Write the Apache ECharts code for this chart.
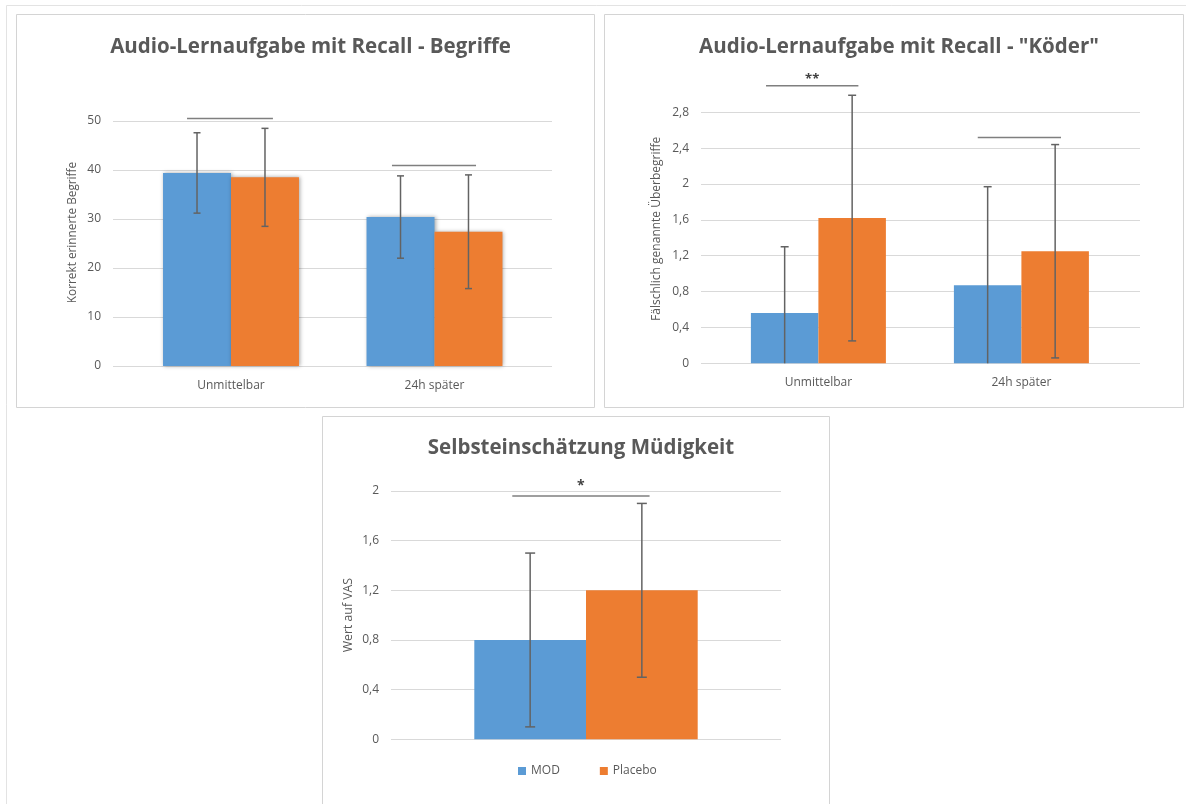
<!DOCTYPE html>
<html>
<head>
<meta charset="utf-8">
<script src="https://cdn.jsdelivr.net/npm/echarts@6/dist/echarts.min.js"></script>
<style>
  html, body { margin: 0; padding: 0; background: #ffffff; }
  #chart { width: 1186px; height: 804px; }
</style>
</head>
<body>
<div id="chart"></div>
<script>
// Categories and series values
const categories = ['Unmittelbar', '24h später'];

// Audio-Lernaufgabe mit Recall - Begriffe
const begriffeMOD = [39.4, 30.4];
const begriffePlacebo = [38.5, 27.4];
const begriffeMODErr = [8.2, 8.4];
const begriffePlaceboErr = [10.0, 11.6];
const begriffeTicks = { min: 0, max: 50, interval: 10 };
// [category, height, from (band units), to (band units), label]
const begriffeBrackets = [[0, 50.5, -0.216, 0.206, ''], [1, 40.9, -0.209, 0.204, '']];

// Audio-Lernaufgabe mit Recall - "Köder"
const koederMOD = [0.56, 0.87];
const koederPlacebo = [1.62, 1.25];
const koederMODErr = [0.74, 1.10];
const koederPlaceboErr = [1.37, 1.19];
const koederTicks = { min: 0, max: 2.8, interval: 0.4 };
const koederBrackets = [[0, 3.095, -0.258, 0.197, '**'], [1, 2.518, -0.215, 0.195, '']];

// Selbsteinschätzung Müdigkeit
const muedigkeitCategories = [''];
const muedigkeitMOD = [0.8];
const muedigkeitPlacebo = [1.2];
const muedigkeitMODErr = [0.7];
const muedigkeitPlaceboErr = [0.7];
const muedigkeitTicks = { min: 0, max: 2, interval: 0.4 };
const muedigkeitBrackets = [[0, 1.96, -0.189, 0.163, '*']];

const seriesNames = ['MOD', 'Placebo'];

const BLUE = '#5B9BD5';
const ORANGE = '#ED7D31';
const TEXT = '#595959';
const GRID = '#d9d9d9';
const ERR = '#636363';
const FONT = '"Open Sans", "Liberation Sans", sans-serif';

const fmt = v => String(+v.toFixed(1)).replace('.', ',');

const chart = echarts.init(document.getElementById('chart'), null, { renderer: 'canvas' });

// Error bar drawn at the centre of one of the two adjoining bars
function errorSeries(xi, yi, values, errors, side, barFrac, capHalf, yMin) {
  return {
    type: 'custom',
    xAxisIndex: xi, yAxisIndex: yi,
    silent: true, clip: false, z: 5,
    data: values.map((v, i) => [i, v, errors[i]]),
    renderItem: function (params, api) {
      const idx = api.value(0), v = api.value(1), e = api.value(2);
      const band = api.size([1, 0])[0];
      const c = api.coord([idx, v]);
      const x = c[0] + side * band * barFrac / 2;
      const yTop = api.coord([idx, v + e])[1];
      const low = Math.max(yMin, v - e);
      const yBot = api.coord([idx, low])[1];
      const st = { stroke: ERR, lineWidth: 1.5 };
      const kids = [
        { type: 'line', shape: { x1: x, y1: yTop, x2: x, y2: yBot }, style: st },
        { type: 'line', shape: { x1: x - capHalf, y1: yTop, x2: x + capHalf, y2: yTop }, style: st }
      ];
      if (v - e >= yMin) {
        kids.push({ type: 'line', shape: { x1: x - capHalf, y1: yBot, x2: x + capHalf, y2: yBot }, style: st });
      }
      return { type: 'group', children: kids };
    }
  };
}

// Comparison bracket with optional significance stars
function bracketSeries(xi, yi, brackets, starSize, starLift) {
  return {
    type: 'custom',
    xAxisIndex: xi, yAxisIndex: yi,
    silent: true, clip: false, z: 6,
    data: brackets,
    renderItem: function (params, api) {
      const idx = api.value(0), h = api.value(1);
      const from = api.value(2), to = api.value(3);
      const label = brackets[params.dataIndex][4];
      const band = api.size([1, 0])[0];
      const c = api.coord([idx, h]);
      const x1 = c[0] + from * band, x2 = c[0] + to * band;
      const kids = [{ type: 'line', shape: { x1: x1, y1: c[1], x2: x2, y2: c[1] },
                      style: { stroke: '#7f7f7f', lineWidth: 1.5 } }];
      if (label) {
        kids.push({ type: 'text', style: { text: label, x: (x1 + x2) / 2, y: c[1] - starLift,
          textAlign: 'center', textVerticalAlign: 'bottom', fill: '#404040',
          font: 'bold ' + starSize + 'px ' + FONT } });
      }
      return { type: 'group', children: kids };
    }
  };
}

function barSeries(name, xi, yi, data, color, width, shadow) {
  return {
    name: name, type: 'bar', xAxisIndex: xi, yAxisIndex: yi,
    data: data, barWidth: width, barGap: '0%',
    itemStyle: shadow ? { color: color, shadowBlur: 4, shadowColor: 'rgba(0,0,0,0.35)', shadowOffsetX: 1 }
                      : { color: color },
    emphasis: { disabled: true }, z: 3
  };
}

function valueAxis(gi, ticks, opts) {
  return Object.assign({
    type: 'value', gridIndex: gi, min: ticks.min, max: ticks.max, interval: ticks.interval,
    axisLine: { show: false }, axisTick: { show: false },
    splitLine: { show: true, lineStyle: { color: GRID, width: 1 } },
    axisLabel: { color: TEXT, fontSize: 12, fontFamily: FONT, margin: 12, formatter: fmt }
  }, opts || {});
}

function hiddenValueAxis(gi, ticks) {
  return { type: 'value', gridIndex: gi, min: ticks.min, max: ticks.max, interval: ticks.interval, show: false };
}

function yName(text, size, gap, shift) {
  return {
    name: text, nameLocation: 'middle', nameGap: gap,
    nameTextStyle: { color: TEXT, fontSize: size, fontFamily: FONT, padding: [0, 0, 0, shift] }
  };
}

const titleStyle = { color: TEXT, fontSize: 20.5, fontWeight: 'bold', fontFamily: FONT };

const option = {
  animation: false,
  backgroundColor: '#ffffff',
  textStyle: { fontFamily: FONT },
  title: [
    { text: 'Audio-Lernaufgabe mit Recall - Begriffe', left: 305.5, top: 32, textAlign: 'center', textStyle: titleStyle },
    { text: 'Audio-Lernaufgabe mit Recall - "Köder"', left: 894, top: 32, textAlign: 'center', textStyle: titleStyle },
    { text: 'Selbsteinschätzung Müdigkeit', left: 576, top: 433, textAlign: 'center', textStyle: titleStyle }
  ],
  legend: {
    data: seriesNames, left: 513, top: 760, itemWidth: 8, itemHeight: 8, itemGap: 40,
    icon: 'rect', textStyle: { color: TEXT, fontSize: 12, fontFamily: FONT }, selectedMode: false
  },
  graphic: [
    { type: 'line', shape: { x1: 6.5, y1: 5.5, x2: 6.5, y2: 804 }, style: { stroke: '#e3e3e3', lineWidth: 1 }, z: -10 },
    { type: 'line', shape: { x1: 6.5, y1: 5.5, x2: 1186, y2: 5.5 }, style: { stroke: '#e3e3e3', lineWidth: 1 }, z: -10 },
    { type: 'rect', shape: { x: 16.5, y: 14.5, width: 578, height: 393 }, style: { fill: '#fff', stroke: '#d4d4d4', lineWidth: 1 }, z: -9 },
    { type: 'rect', shape: { x: 604.5, y: 14.5, width: 579, height: 393 }, style: { fill: '#fff', stroke: '#d4d4d4', lineWidth: 1 }, z: -9 },
    { type: 'rect', shape: { x: 322.5, y: 416.5, width: 507, height: 400 }, style: { fill: '#fff', stroke: '#d4d4d4', lineWidth: 1 }, z: -9 }
  ],
  grid: [
    // Begriffe: gridline frame and bar area
    { left: 113, top: 121, width: 439, height: 245 },
    { left: 129.25, top: 121, width: 407, height: 245 },
    // Köder
    { left: 701, top: 112.3, width: 439, height: 251 },
    { left: 716.9, top: 112.3, width: 406, height: 251 },
    // Müdigkeit
    { left: 391, top: 491, width: 390, height: 248.3 }
  ],
  xAxis: [
    { type: 'value', gridIndex: 0, show: false, min: 0, max: 1 },
    { type: 'category', gridIndex: 1, data: categories, axisLine: { show: false }, axisTick: { show: false },
      axisLabel: { color: TEXT, fontSize: 12, fontFamily: FONT, margin: 14 } },
    { type: 'value', gridIndex: 2, show: false, min: 0, max: 1 },
    { type: 'category', gridIndex: 3, data: categories, axisLine: { show: false }, axisTick: { show: false },
      axisLabel: { color: TEXT, fontSize: 12, fontFamily: FONT, margin: 13 } },
    { type: 'category', gridIndex: 4, data: muedigkeitCategories, axisLine: { show: false }, axisTick: { show: false },
      axisLabel: { show: false } }
  ],
  yAxis: [
    valueAxis(0, begriffeTicks, yName('Korrekt erinnerte Begriffe', 11.8, 34, 22)),
    hiddenValueAxis(1, begriffeTicks),
    valueAxis(2, koederTicks, yName('Fälschlich genannte Überbegriffe', 12, 38, 18)),
    hiddenValueAxis(3, koederTicks),
    valueAxis(4, muedigkeitTicks, yName('Wert auf VAS', 12.3, 37, 0))
  ],
  series: [
    barSeries(seriesNames[0], 1, 1, begriffeMOD, BLUE, '33.4%', true),
    barSeries(seriesNames[1], 1, 1, begriffePlacebo, ORANGE, '33.4%', true),
    errorSeries(1, 1, begriffeMOD, begriffeMODErr, -1, 0.334, 3.5, begriffeTicks.min),
    errorSeries(1, 1, begriffePlacebo, begriffePlaceboErr, 1, 0.334, 3.5, begriffeTicks.min),
    bracketSeries(1, 1, begriffeBrackets, 13, 0),

    barSeries(seriesNames[0], 3, 3, koederMOD, BLUE, '33.25%', false),
    barSeries(seriesNames[1], 3, 3, koederPlacebo, ORANGE, '33.25%', false),
    errorSeries(3, 3, koederMOD, koederMODErr, -1, 0.3325, 4, koederTicks.min),
    errorSeries(3, 3, koederPlacebo, koederPlaceboErr, 1, 0.3325, 4, koederTicks.min),
    bracketSeries(3, 3, koederBrackets, 13, 0),

    barSeries(seriesNames[0], 4, 4, muedigkeitMOD, BLUE, '28.64%', false),
    barSeries(seriesNames[1], 4, 4, muedigkeitPlacebo, ORANGE, '28.64%', false),
    errorSeries(4, 4, muedigkeitMOD, muedigkeitMODErr, -1, 0.2864, 5, muedigkeitTicks.min),
    errorSeries(4, 4, muedigkeitPlacebo, muedigkeitPlaceboErr, 1, 0.2864, 5, muedigkeitTicks.min),
    bracketSeries(4, 4, muedigkeitBrackets, 14, 3)
  ]
};

chart.setOption(option);
</script>
</body>
</html>
